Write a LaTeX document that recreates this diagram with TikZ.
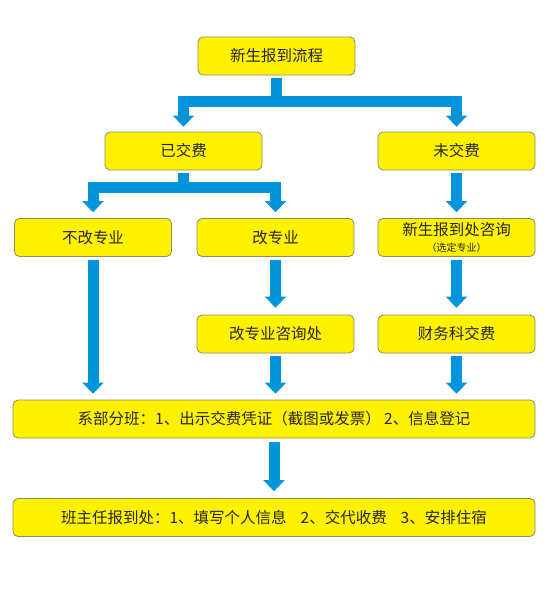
\documentclass[tikz,border=0pt]{standalone}
\usepackage{fontspec}
\setmainfont{Noto Sans CJK SC}
\usetikzlibrary{arrows.meta}
\definecolor{boxyellow}{HTML}{FFF200}
\definecolor{boxedge}{HTML}{8C8A6A}
\definecolor{flowblue}{HTML}{0095DA}
\begin{document}
\begin{tikzpicture}[x=1pt,y=-1pt,
  box/.style={draw=boxedge, line width=0.8pt, fill=boxyellow, rounded corners=5pt,
    minimum width=157pt, minimum height=38pt, inner sep=0pt, align=center,
    font=\fontsize{15.5}{18}\selectfont, text=black!85},
  widebox/.style={box, minimum width=522pt},
  flow/.style={draw=flowblue, line width=11pt, line join=miter,
    -{Triangle[width=21pt,length=11pt]}}]
\useasboundingbox (0,0) rectangle (554,606);

\node[box] (top) at (276.5,56) {新生报到流程};
\node[box] (paid) at (183.5,151) {已交费};
\node[box] (unpaid) at (456.5,151) {未交费};
\node[box] (nochange) at (93,237.5) {不改专业};
\node[box] (change) at (275.5,237.5) {改专业};
\node[box] (consult) at (456.5,237.5) {\raisebox{3pt}{新生报到处咨询}\\[-5pt]{\fontsize{10}{12}\selectfont （选定专业）}};
\node[box] (changeoffice) at (275.5,334) {改专业咨询处};
\node[box] (finance) at (456.5,334) {财务科交费};
\node[widebox] (dept) at (274,419) {系部分班：1、出示交费凭证（截图或发票） 2、信息登记};
\node[widebox] (teacher) at (274,517.5) {班主任报到处：1、填写个人信息\hspace{0.9em}2、交代收费\hspace{0.9em}3、安排住宿};

% top split
\draw[flow] ([yshift=-3pt]top.south) -- ([yshift=-26pt]top.south) -| ([yshift=5pt]paid.north);
\draw[flow] ([yshift=-3pt]top.south) -- ([yshift=-26pt]top.south) -| ([yshift=5pt]unpaid.north);

% paid split
\draw[flow] ([yshift=-3pt]paid.south) -- ([yshift=-17pt]paid.south) -| ([yshift=6pt]nochange.north);
\draw[flow] ([yshift=-3pt]paid.south) -- ([yshift=-17pt]paid.south) -| ([yshift=6pt]change.north);

% unpaid
\draw[flow] ([yshift=-3pt]unpaid.south) -- ([yshift=6pt]consult.north);

% row 3 to row 4
\draw[flow] ([yshift=-3pt]change.south) -- ([yshift=7pt]changeoffice.north);
\draw[flow] ([yshift=-3pt]consult.south) -- ([yshift=7pt]finance.north);

% to dept
\draw[flow] ([yshift=-3pt]nochange.south) -- ([yshift=6pt]nochange.south |- dept.north);
\draw[flow] ([yshift=-3pt]changeoffice.south) -- ([yshift=6pt]changeoffice.south |- dept.north);
\draw[flow] ([yshift=-3pt]finance.south) -- ([yshift=6pt]finance.south |- dept.north);

% to teacher
\draw[flow] ([yshift=-4pt]dept.south) -- ([yshift=7pt]teacher.north);
\end{tikzpicture}
\end{document}
